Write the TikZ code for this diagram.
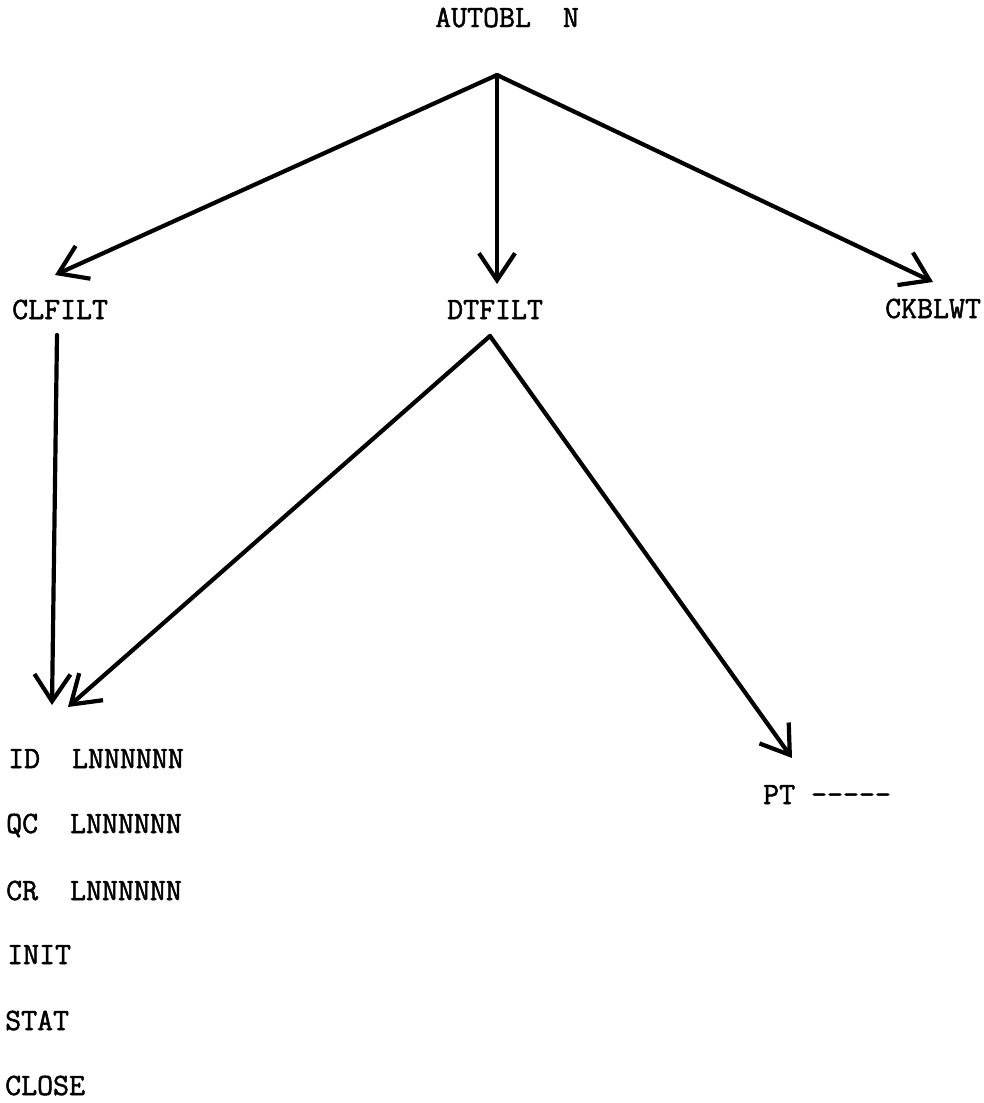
\documentclass[tikz,border=0pt]{standalone}
\usepackage{fontspec}
\newfontfamily\typer{Latin Modern Mono}[FakeBold=1.6]
\usetikzlibrary{arrows.meta}
\begin{document}
\begin{tikzpicture}[x=1pt,y=-1pt,
  lbl/.style={anchor=base west,inner sep=0pt,
    font=\fontsize{31}{36}\selectfont\typer},
  link/.style={line width=4.2pt,line cap=round,line join=round,
    -{Straight Barb[length=27pt,width=36pt,line width=4.2pt]}}]
\useasboundingbox (0,0) rectangle (984,1103);

% routine names
\node[lbl] (autobl) at (435,27) {AUTOBL\ \ N};
\node[lbl] (clfilt) at (12,319) {CLFILT};
\node[lbl] (dtfilt) at (447,319) {DTFILT};
\node[lbl] (ckblwt) at (885,318) {CKBLWT};
\node[lbl] (id)    at (8,768)   {ID\ \ LNNNNNN};
\node[lbl] (qc)    at (6,833)   {QC\ \ LNNNNNN};
\node[lbl] (cr)    at (6,900)   {CR\ \ LNNNNNN};
\node[lbl] (init)  at (7,964)   {INIT};
\node[lbl] (stat)  at (5,1030)  {STAT};
\node[lbl] (close) at (5,1095)  {CLOSE};
\node[lbl] (pt)    at (763,804) {PT\ -----};

% connector ends
\coordinate (autobl-out) at (497,75);
\coordinate (clfilt-in)  at (55,275);
\coordinate (dtfilt-in)  at (497,284);
\coordinate (ckblwt-in)  at (933,282);
\coordinate (clfilt-out) at (57,335);
\coordinate (dtfilt-out) at (490,336);
\coordinate (id-in1)     at (52,705);
\coordinate (id-in2)     at (68,707);
\coordinate (pt-in)      at (792,758);

% calls
\draw[link] (autobl-out) -- (clfilt-in);
\draw[link] (autobl-out) -- (dtfilt-in);
\draw[link] (autobl-out) -- (ckblwt-in);
\draw[link] (clfilt-out) -- (id-in1);
\draw[link] (dtfilt-out) -- (id-in2);
\draw[link] (dtfilt-out) -- (pt-in);
\end{tikzpicture}
\end{document}
